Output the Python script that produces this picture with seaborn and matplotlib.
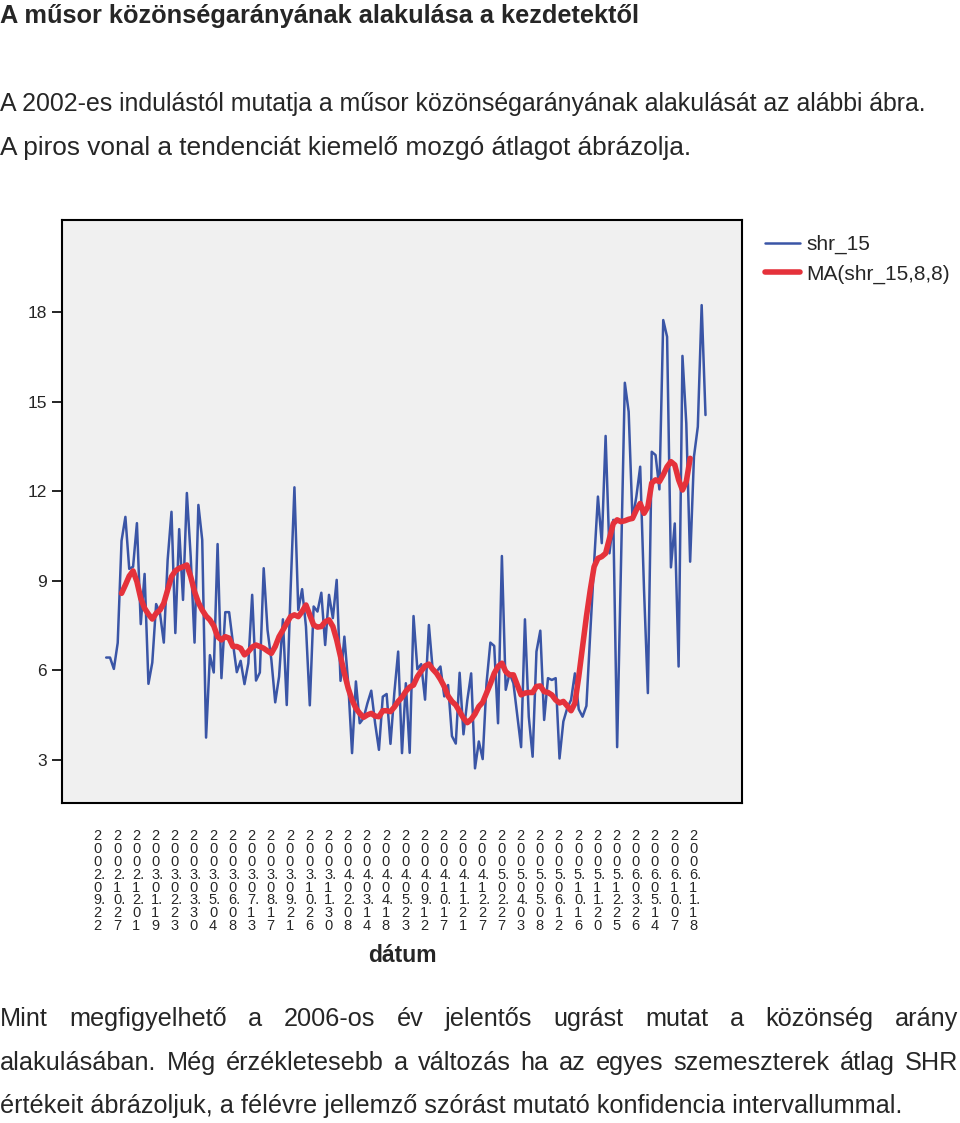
"""
Weekly audience share (shr_15) since the 2002 launch, with its moving average,
laid out as the document page it was taken from.
"""

import numpy as np
import pandas as pd
import matplotlib
matplotlib.use("Agg")
import matplotlib.pyplot as plt
import matplotlib.transforms as mtransforms
import seaborn as sns

W, H = 960, 1123

# -------------------------
# Data
# -------------------------
date_labels = [
    "2002.09.22", "2002.10.27", "2002.12.01", "2003.01.19", "2003.02.23",
    "2003.03.30", "2003.05.04", "2003.06.08", "2003.07.13", "2003.08.17",
    "2003.09.21", "2003.10.26", "2003.11.30", "2004.02.08", "2004.03.14",
    "2004.04.18", "2004.05.23", "2004.09.12", "2004.10.17", "2004.11.21",
    "2004.12.27", "2005.02.27", "2005.04.03", "2005.05.08", "2005.06.12",
    "2005.10.16", "2005.11.20", "2005.12.25", "2006.03.26", "2006.05.14",
    "2006.10.07", "2006.11.18",
]
label_every = 5

shr_15 = [
    6.43, 6.43, 6.05, 6.92, 10.34, 11.14, 9.40, 9.47, 10.93, 7.55,
    9.23, 5.55, 6.26, 8.22, 7.92, 6.93, 9.70, 11.31, 7.25, 10.73,
    8.36, 11.94, 9.81, 6.93, 11.54, 10.37, 3.75, 6.51, 5.93, 10.23,
    5.74, 7.95, 7.95, 6.91, 5.94, 6.32, 5.54, 6.24, 8.53, 5.66,
    5.93, 9.42, 7.35, 6.35, 4.93, 5.79, 7.71, 4.84, 8.69, 12.13,
    8.02, 8.72, 7.47, 4.83, 8.14, 7.97, 8.60, 6.85, 8.53, 7.75,
    9.03, 5.65, 7.13, 5.57, 3.23, 5.63, 4.23, 4.40, 4.90, 5.32,
    4.23, 3.34, 5.12, 5.21, 3.54, 5.24, 6.63, 3.23, 5.57, 3.24,
    7.82, 6.04, 6.21, 5.02, 7.52, 6.00, 5.96, 6.13, 5.13, 5.51,
    3.80, 3.55, 5.92, 3.86, 5.00, 5.90, 2.72, 3.62, 3.03, 5.57,
    6.93, 6.82, 4.23, 9.83, 5.35, 5.90, 5.57, 4.51, 3.43, 7.71,
    4.45, 3.11, 6.63, 7.33, 4.34, 5.74, 5.68, 5.74, 3.05, 4.29,
    4.73, 5.01, 5.90, 4.70, 4.45, 4.81, 7.25, 9.59, 11.82, 10.26,
    13.85, 9.92, 11.04, 3.43, 9.50, 15.63, 14.66, 11.04, 11.82, 12.82,
    8.69, 5.24, 13.32, 13.21, 12.06, 17.73, 17.17, 9.45, 10.92, 6.13,
    16.53, 14.27, 9.64, 13.16, 14.16, 18.23, 14.55,
]

# MA(shr_15,8,8): undefined for the first and last 4 weeks
ma_lead, ma_trail = 4, 4
ma_values = [
    8.58, 8.86, 9.16, 9.33, 8.97, 8.41, 8.08, 7.88, 7.72, 7.91,
    8.02, 8.25, 8.69, 9.14, 9.33, 9.42, 9.47, 9.53, 9.14, 8.64,
    8.27, 8.02, 7.82, 7.69, 7.49, 7.13, 7.02, 7.13, 7.08, 6.80,
    6.80, 6.74, 6.52, 6.63, 6.78, 6.85, 6.80, 6.74, 6.65, 6.57,
    6.80, 7.13, 7.35, 7.58, 7.80, 7.86, 7.80, 7.97, 8.19, 7.86,
    7.52, 7.45, 7.47, 7.63, 7.69, 7.47, 7.02, 6.46, 5.90, 5.40,
    5.01, 4.73, 4.56, 4.43, 4.51, 4.56, 4.47, 4.45, 4.65, 4.65,
    4.62, 4.77, 4.96, 5.10, 5.30, 5.44, 5.51, 5.79, 5.98, 6.15,
    6.21, 6.04, 5.90, 5.70, 5.46, 5.14, 4.96, 4.84, 4.62, 4.40,
    4.25, 4.36, 4.54, 4.79, 4.93, 5.24, 5.55, 5.90, 6.13, 6.24,
    5.96, 5.85, 5.85, 5.51, 5.18, 5.24, 5.26, 5.26, 5.46, 5.48,
    5.29, 5.26, 5.18, 5.01, 4.91, 4.96, 4.81, 4.65, 4.90, 5.79,
    6.80, 7.80, 8.69, 9.47, 9.75, 9.81, 9.92, 10.42, 10.92, 11.04,
    10.98, 11.01, 11.06, 11.09, 11.37, 11.59, 11.26, 11.48, 12.27, 12.38,
    12.32, 12.55, 12.82, 12.99, 12.88, 12.38, 12.04, 12.32, 13.10,
]

y_ticks = [3, 6, 9, 12, 15, 18]

title_text = "A műsor közönségarányának alakulása a kezdetektől"
intro_lines = [
    "A 2002-es indulástól mutatja a műsor közönségarányának alakulását az alábbi ábra.",
    "A piros vonal a tendenciát kiemelő mozgó átlagot ábrázolja.",
]
outro_lines = [
    "Mint megfigyelhető a 2006-os év jelentős ugrást mutat a közönség arány",
    "alakulásában. Még érzékletesebb a változás ha az egyes szemeszterek átlag SHR",
    "értékeit ábrázoljuk, a félévre jellemző szórást mutató konfidencia intervallummal.",
]

BLUE = "#3A55A6"
RED = "#E5323B"


def build_frame():
    weeks = np.arange(len(shr_15))
    ma_full = [np.nan] * ma_lead + ma_values + [np.nan] * ma_trail
    return pd.DataFrame({"week": weeks, "shr_15": shr_15, "ma": ma_full})


def stack_label(d):
    # SPSS wraps the narrow date labels one character per row,
    # keeping the dots on the digit before them
    rows = []
    for ch in d:
        if ch == "." and rows:
            rows[-1] += "."
        else:
            rows.append(ch)
    return "\n".join(rows)


def main():
    sns.set_style("white")
    plt.rcParams["font.family"] = ["Liberation Sans", "DejaVu Sans"]

    df = build_frame()

    fig = plt.figure(figsize=(W / 100, H / 100), dpi=100)
    renderer = fig.canvas.get_renderer()

    # -------------------------
    # Chart
    # -------------------------
    ax = fig.add_axes([62 / W, 1 - 803 / H, 680 / W, 583 / H])
    ax.set_facecolor("#F0F0F0")

    sns.lineplot(data=df, x="week", y="shr_15", ax=ax, color=BLUE,
                 linewidth=1.8, label="shr_15")
    sns.lineplot(data=df, x="week", y="ma", ax=ax, color=RED,
                 linewidth=4.0, label="MA(shr_15,8,8)")

    ax.set_xlim(-11.5, 165.5)
    ax.set_ylim(1.56, 21.08)

    ax.set_yticks(y_ticks)
    ax.set_yticklabels([str(v) for v in y_ticks], fontsize=12.5)
    ax.tick_params(axis="y", direction="out", length=7.5, width=1.2,
                   color="black", pad=3.5, left=True)

    tick_pos = df["week"].iloc[::label_every].iloc[:len(date_labels)]
    ax.set_xticks(tick_pos)
    ax.set_xticklabels([stack_label(d) for d in date_labels], fontsize=10.5,
                       linespacing=0.89, ha="left", va="top")
    ax.tick_params(axis="x", length=0, pad=19)
    shift = mtransforms.ScaledTranslation(-12.5 / 100, 0, fig.dpi_scale_trans)
    for lab in ax.get_xticklabels():
        lab.set_transform(lab.get_transform() + shift)

    ax.set_xlabel("dátum", fontsize=16.5, fontweight="bold")
    ax.xaxis.set_label_coords(0.5, -(955 - 803) / 583)
    ax.xaxis.label.set_va("center")
    ax.set_ylabel("")

    for sp in ax.spines.values():
        sp.set_visible(True)
        sp.set_color("black")
        sp.set_linewidth(1.5)

    handles, labels = ax.get_legend_handles_labels()
    ax.get_legend().remove()
    fig.legend(handles, labels, loc="upper left",
               bbox_to_anchor=(765 / W, 1 - 235 / H), frameon=False,
               fontsize=15, handlelength=1.7, handletextpad=0.3,
               borderpad=0, borderaxespad=0, labelspacing=0.5)

    # -------------------------
    # Page text
    # -------------------------
    def text_width(s, size, weight="normal"):
        t = fig.text(0, 0, s, fontsize=size, fontweight=weight)
        w = t.get_window_extent(renderer).width
        t.remove()
        return w

    def fit(s, target_px, weight="normal"):
        return 10 * target_px / text_width(s, 10, weight)

    def write_line(s, baseline_px, size, justify_to=None, weight="normal"):
        y = 1 - baseline_px / H
        if justify_to is None:
            fig.text(0, y, s, fontsize=size, fontweight=weight, va="baseline")
            return
        words = s.split()
        widths = [text_width(w, size) for w in words]
        gap = (justify_to - sum(widths)) / (len(words) - 1)
        x = 0.0
        for word, wd in zip(words, widths):
            fig.text(x / W, y, word, fontsize=size, va="baseline")
            x += wd + gap

    body_size = fit(outro_lines[2], 905)

    write_line(title_text, 23, fit(title_text, 640, "bold"), weight="bold")
    write_line(intro_lines[0], 111, fit(intro_lines[0], 932))
    write_line(intro_lines[1], 155, fit(intro_lines[1], 693))
    write_line(outro_lines[0], 1026, body_size, justify_to=958)
    write_line(outro_lines[1], 1070, body_size, justify_to=958)
    write_line(outro_lines[2], 1113, body_size)

    fig.savefig("out.png", dpi=100)
    plt.close(fig)


if __name__ == "__main__":
    main()
